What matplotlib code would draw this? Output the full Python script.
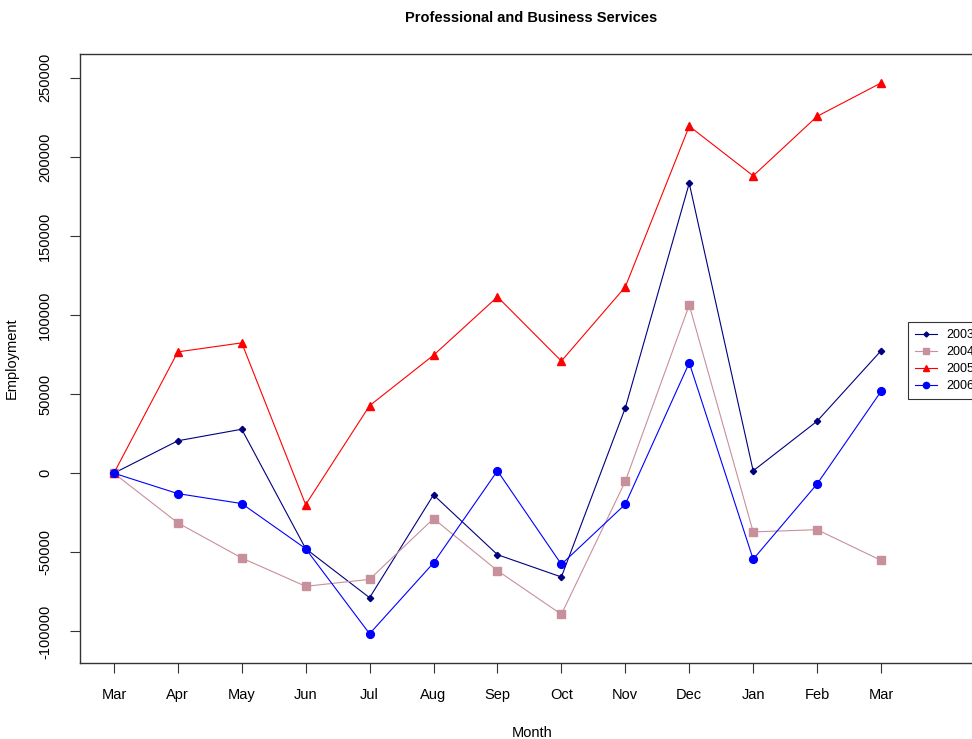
import matplotlib
matplotlib.use("Agg")
from matplotlib import pyplot as plt

plt.rcParams['font.family'] = ['Liberation Sans', 'DejaVu Sans']

months = ['Mar', 'Apr', 'May', 'Jun', 'Jul', 'Aug', 'Sep', 'Oct', 'Nov', 'Dec', 'Jan', 'Feb', 'Mar']

emp_2003 = [0, 20500, 27800, -47700, -78700, -13700, -51500, -65600, 41300, 183300, 1500, 32900, 77400]
emp_2004 = [0, -31400, -53600, -71500, -67100, -28700, -61600, -89200, -5100, 106300, -37100, -35700, -55100]
emp_2005 = [0, 76700, 82400, -19900, 42700, 74600, 111500, 70900, 117800, 219400, 188000, 225600, 246700]
emp_2006 = [0, -12900, -19200, -47700, -101500, -56700, 1500, -57600, -19600, 69800, -54400, -6800, 51700]

yticks = [-100000, -50000, 0, 50000, 100000, 150000, 200000, 250000]

x = list(range(len(months)))

fig = plt.figure(figsize=(9.72, 7.39), dpi=100)
ax = fig.add_axes([0.0823, 0.1028, 0.93, 0.8241])

ax.plot(x, emp_2003, color='#000080', marker='D', markersize=3.2, lw=0.8, label='2003')
ax.plot(x, emp_2004, color='#c8909b', marker='s', markersize=5.2, lw=0.8, label='2004')
ax.plot(x, emp_2005, color='#ff0000', marker='^', markersize=6, lw=0.8, label='2005')
ax.plot(x, emp_2006, color='#0000ff', marker='o', markersize=5.6, lw=0.8, label='2006')

ax.set_xlim(-0.53, 13.61)
ax.set_ylim(-120000, 265000)

ax.set_xticks(x)
ax.set_xticklabels(months, fontsize=10.5)
ax.set_yticks(yticks)
ax.set_yticklabels([str(v) for v in yticks], rotation=90, va='center', fontsize=10.5)
ax.tick_params(axis='x', direction='out', length=7, width=0.8, color='#333333', pad=11)
ax.tick_params(axis='y', direction='out', length=7, width=0.8, color='#333333', pad=13)

for s in ax.spines.values():
    s.set_linewidth(1.0)
    s.set_color('#333333')

ax.set_xlabel('Month', fontsize=10.5, labelpad=17)
ax.set_ylabel('Employment', fontsize=10.5, labelpad=14)
fig.text(0.546, 0.976, 'Professional and Business Services', ha='center', va='center',
         fontsize=10.5, fontweight='bold')

leg = ax.legend(loc='upper left', bbox_to_anchor=(0.934, 0.564), bbox_transform=fig.transFigure,
                fontsize=9, frameon=True, fancybox=False, edgecolor='black',
                handlelength=1.8, handletextpad=0.7, labelspacing=0.4, borderpad=0.55,
                borderaxespad=0, markerscale=0.8)
leg.get_frame().set_linewidth(0.8)

fig.savefig('out.png', dpi=100)
